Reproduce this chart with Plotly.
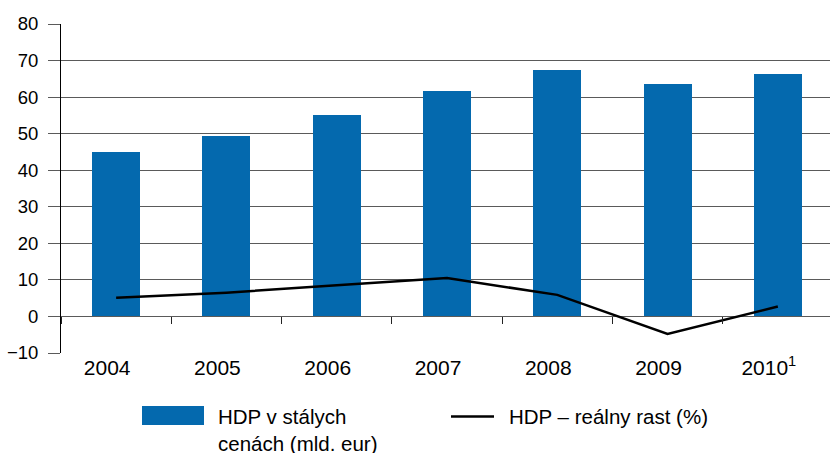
import plotly.graph_objects as go

# GDP at constant prices (bn EUR) and real GDP growth (%)
years = ["2004", "2005", "2006", "2007", "2008", "2009", "2010"]
year_labels = ["2004", "2005", "2006", "2007", "2008", "2009", "2010<sup>1</sup>"]
gdp_constant = [45.0, 49.4, 55.1, 61.6, 67.5, 63.6, 66.4]
gdp_growth = [5.1, 6.5, 8.5, 10.5, 5.9, -4.8, 2.7]

bar_name = "HDP v stálych<br>cenách (mld. eur)"
line_name = "HDP – reálny rast (%)"

W, H = 830, 453
M_L, M_R, M_T, M_B = 61, 0, 24, 100
PLOT_W = W - M_L - M_R
PLOT_H = H - M_T - M_B

BLUE = "#0469AE"
GRID = "#5a5a5a"
FONT = "Arial, 'Liberation Sans', sans-serif"


def px_x(px):
    return (px - M_L) / PLOT_W


def px_y(py):
    return (H - M_B - py) / PLOT_H


fig = go.Figure()

fig.add_trace(go.Bar(
    x=years, y=gdp_constant, name=bar_name,
    marker=dict(color=BLUE, line=dict(width=0)),
    width=0.435, showlegend=False,
))

fig.add_trace(go.Scatter(
    x=years, y=gdp_growth, name=line_name,
    mode="lines", line=dict(color="black", width=2.5),
    xaxis="x2", showlegend=False,
))

x_range = [-0.5, 6.473]

fig.update_layout(
    width=W, height=H,
    margin=dict(l=M_L, r=M_R, t=M_T, b=M_B),
    paper_bgcolor="white", plot_bgcolor="white",
    font=dict(family=FONT, color="black"),
    # bottom axis: year labels only
    xaxis=dict(
        type="category", range=x_range,
        tickmode="array", tickvals=years, ticktext=year_labels,
        ticks="", showline=False, showgrid=False, zeroline=False,
        tickfont=dict(size=21, family=FONT),
        ticklabelstandoff=0, ticklabelshift=-9,
        fixedrange=True,
    ),
    # same categories, boundary ticks hanging from the zero line
    xaxis2=dict(
        type="category", range=x_range, overlaying="x",
        anchor="free", position=10 / 90,
        tickson="boundaries", ticks="outside", ticklen=7,
        tickcolor="#222", tickwidth=1,
        showticklabels=False, showline=False, showgrid=False, zeroline=False,
    ),
    yaxis=dict(
        range=[-10, 80], dtick=10, tick0=0,
        showgrid=True, gridcolor=GRID, gridwidth=1,
        zeroline=True, zerolinecolor=GRID, zerolinewidth=1,
        showline=True, linecolor="black", linewidth=1,
        ticks="outside", ticklen=12, tickcolor=GRID, tickwidth=1,
        tickfont=dict(size=18.5, family=FONT), ticklabelstandoff=6,
    ),
    bargap=0,
)

# legend drawn below the plot
fig.add_shape(type="rect", xref="paper", yref="paper",
              x0=px_x(142), x1=px_x(204), y0=px_y(425), y1=px_y(406),
              fillcolor=BLUE, line=dict(width=0))
fig.add_shape(type="line", xref="paper", yref="paper",
              x0=px_x(451), x1=px_x(494), y0=px_y(416.5), y1=px_y(416.5),
              line=dict(color="black", width=2.5))
fig.add_annotation(xref="paper", yref="paper", x=px_x(216), y=px_y(403),
                   xanchor="left", yanchor="top", align="left",
                   text=bar_name, showarrow=False,
                   font=dict(size=20.5, family=FONT, color="black"))
fig.add_annotation(xref="paper", yref="paper", x=px_x(507), y=px_y(403),
                   xanchor="left", yanchor="top", align="left",
                   text=line_name, showarrow=False,
                   font=dict(size=20.5, family=FONT, color="black"))

fig.write_html("out.html")
